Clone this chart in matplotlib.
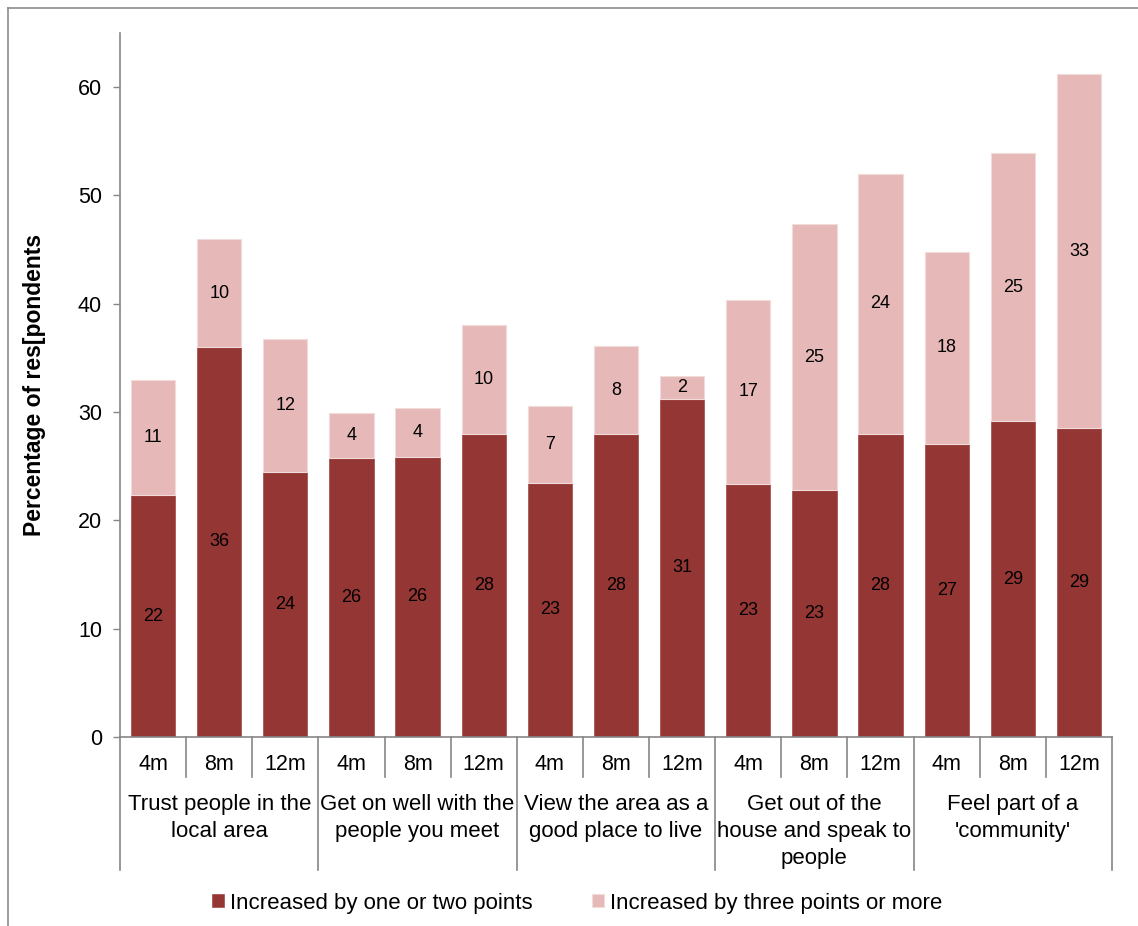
import matplotlib
matplotlib.use("Agg")
import matplotlib.pyplot as plt
from matplotlib.lines import Line2D
import numpy as np

plt.rcParams['font.family'] = ['Liberation Sans', 'DejaVu Sans']

# Data
periods = ["4m", "8m", "12m"]
outcomes = [
    "Trust people in the\nlocal area",
    "Get on well with the\npeople you meet",
    "View the area as a\ngood place to live",
    "Get out of the\nhouse and speak to\npeople",
    "Feel part of a\n'community'",
]
one_or_two = [22.34, 36.04, 24.46, 25.73, 25.88, 27.97, 23.48, 27.94, 31.24,
              23.39, 22.77, 28.0, 27.08, 29.14, 28.56]
three_plus = [10.65, 9.9, 12.25, 4.15, 4.46, 10.03, 7.05, 8.13, 2.08,
              16.95, 24.56, 23.97, 17.72, 24.81, 32.61]
series_names = ["Increased by one or two points", "Increased by three points or more"]

dark = "#943634"
light = "#E6B9B8"
axis_grey = "#868686"

W, H = 1138, 926
fig = plt.figure(figsize=(W / 100, H / 100), dpi=100)
ax = fig.add_axes([120 / W, 1 - 737 / H, 992 / W, 704 / H])

n = len(one_or_two)
x = np.arange(n)
b1 = ax.bar(x, one_or_two, width=0.67, color=dark, edgecolor="#A04846", linewidth=0.5,
            label=series_names[0], zorder=2)
b2 = ax.bar(x, three_plus, width=0.67, bottom=one_or_two, color=light,
            edgecolor="#F2DCDB", linewidth=0.8, label=series_names[1], zorder=2)

for xi, a, b in zip(x, one_or_two, three_plus):
    ax.text(xi, a / 2, "%.0f" % a, ha="center", va="center", fontsize=13, color="black")
    ax.text(xi, a + b / 2, "%.0f" % b, ha="center", va="center", fontsize=13, color="black")

ax.set_xlim(-0.5, n - 0.5)
ax.set_ylim(0, 65)
ax.set_yticks(range(0, 61, 10))
ax.tick_params(axis="y", labelsize=15.5, length=5, width=1, color=axis_grey, pad=8)
ax.set_xticks([])
for s in ["top", "right"]:
    ax.spines[s].set_visible(False)
for s in ["left", "bottom"]:
    ax.spines[s].set_color(axis_grey)
    ax.spines[s].set_linewidth(1.2)

ax.set_ylabel("Percentage of res[pondents", fontsize=16.5, fontweight="bold")
ax.yaxis.set_label_coords(-74 / 992, 0.5)

# Two-level category axis
trans = ax.get_xaxis_transform()
px = 1 / 704
short_y = -40 * px
long_y = -133 * px
for i in range(n + 1):
    xb = i - 0.5
    y_end = long_y if i % 3 == 0 else short_y
    ax.add_line(Line2D([xb, xb], [0, y_end], transform=trans, color=axis_grey,
                       lw=1.2, clip_on=False))
for i in range(n):
    ax.text(i, -27 * px, periods[i % 3], transform=trans, ha="center", va="center",
            fontsize=15.5)
for g, name in enumerate(outcomes):
    ax.text(3 * g + 1, -57 * px, name, transform=trans, ha="center", va="top",
            fontsize=16, linespacing=1.36)

# Legend
fig.legend(handles=[b1, b2], labels=series_names, loc="center",
           bbox_to_anchor=(577 / W, 1 - 903 / H), ncol=2, frameon=False, fontsize=16,
           handlelength=0.55, handleheight=0.55, handletextpad=0.27, columnspacing=2.65)

# Chart border (top and left edges)
fig.add_artist(Line2D([8 / W, 1], [1 - 8 / H, 1 - 8 / H], transform=fig.transFigure,
                      color="#8C8C8C", lw=1.2))
fig.add_artist(Line2D([8 / W, 8 / W], [0, 1 - 8 / H], transform=fig.transFigure,
                      color="#8C8C8C", lw=1.2))

fig.savefig("out.png", dpi=100, facecolor="white")
